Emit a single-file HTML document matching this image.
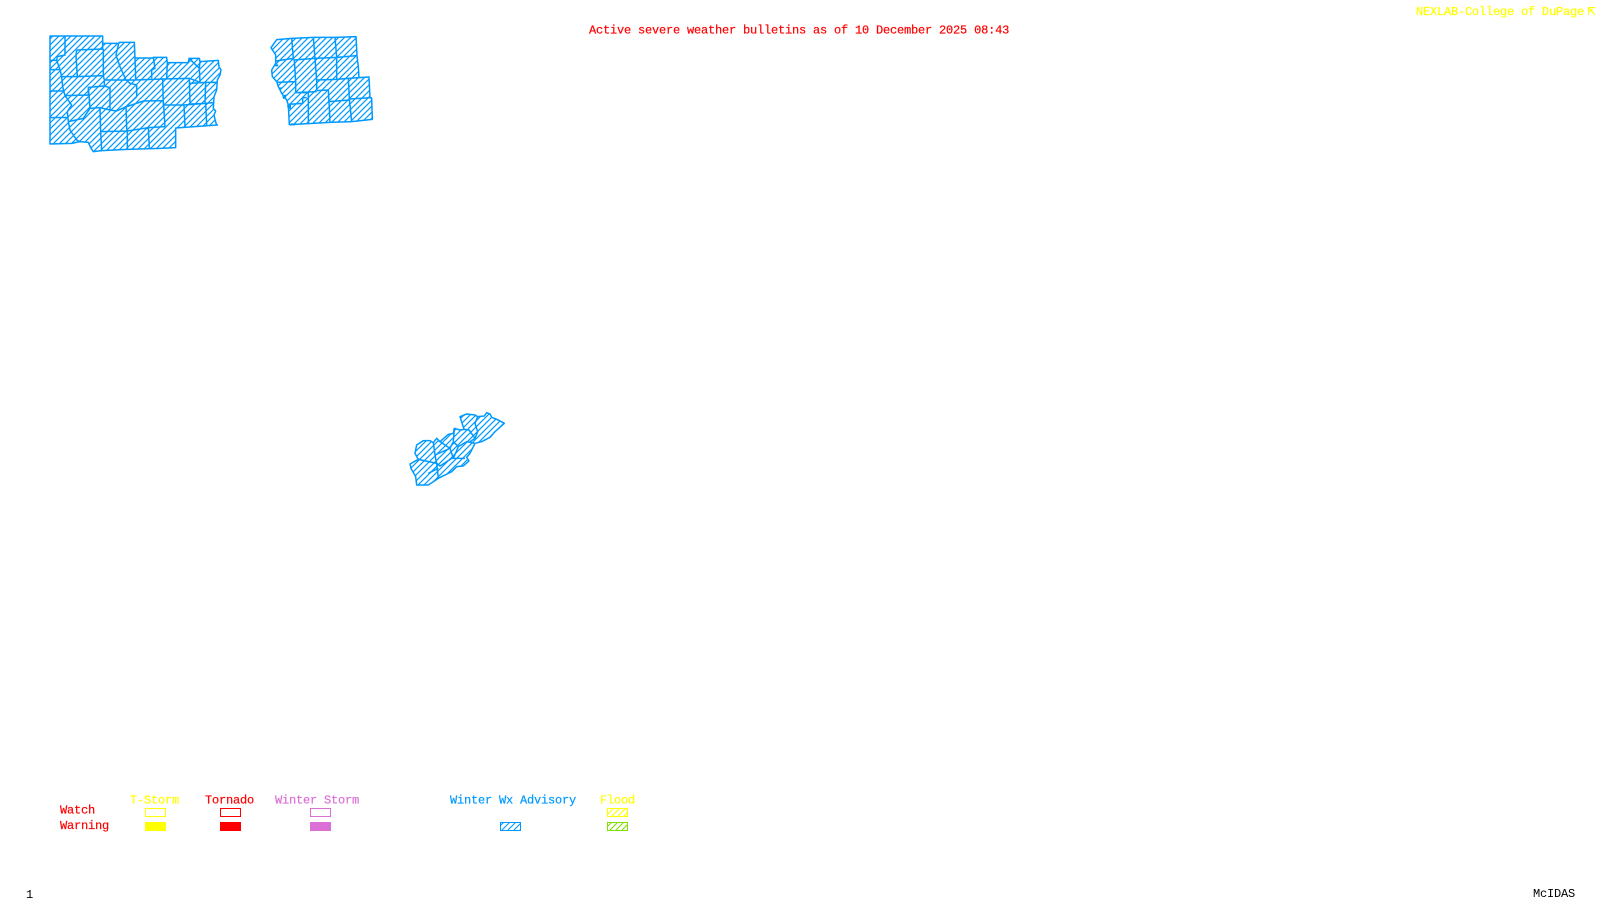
<!DOCTYPE html>
<html><head><meta charset="utf-8"><title>Active severe weather bulletins</title>
<style>
html,body{margin:0;padding:0;background:#fff;width:1600px;height:900px;overflow:hidden}
svg{display:block}
text{font-family:"Liberation Mono",monospace;font-size:12px;letter-spacing:-.2px;white-space:pre;stroke-width:.2px}
</style></head><body>
<svg width="1600" height="900" viewBox="0 0 1600 900" xmlns="http://www.w3.org/2000/svg">
<defs>
<pattern id="h" width="18" height="18" patternUnits="userSpaceOnUse"><path d="M-4.500 4.500L4.500-4.500M0 18L18 0M13.500 22.500L22.500 13.500" stroke="#0099ff" stroke-width="3.600" fill="none"/></pattern>
<pattern id="hb" width="6" height="6" patternUnits="userSpaceOnUse"><path d="M0 6L6 0M-1 1L1-1M5 7L7 5" stroke="#0099ff" stroke-width="1.100"/></pattern>
<pattern id="hy" width="6" height="6" patternUnits="userSpaceOnUse"><path d="M0 6L6 0M-1 1L1-1M5 7L7 5" stroke="#ffff00" stroke-width="1.100"/></pattern>
<pattern id="hg" width="6" height="6" patternUnits="userSpaceOnUse"><path d="M0 6L6 0M-1 1L1-1M5 7L7 5" stroke="#80e000" stroke-width="1.100"/></pattern>
</defs>
<rect width="1600" height="900" fill="#fff"/>

<g transform="translate(40,25) scale(.33333)" stroke="#0099ff" stroke-width="4.500" fill="none" stroke-linejoin="round">
<path fill="url(#h)" d="M30 33L188 33L188 55L236 55L238 52L283 52L285 99L338 99L340 97L380 97L382 113L445 113L447 100L478 100L480 110L535 106L537 125L543 135L540 150L532 165L530 195L522 215L520 250L527 258L522 270L528 295L532 300L407 309L407 368L360 370L262 373L185 377L160 380L152 368L145 352L120 350L95 355L30 357Z"/>
<path d="M75 33L75 90L52 95L50 106L30 106M30 134L60 134L65 155L112 155M50 106L60 134M110 75L188 72L188 55M110 75L108 92L112 155L190 152L190 72M236 55L228 90L240 125L258 165L285 165L368 162L448 160L480 172L478 130L480 110M285 99L287 162M340 97L345 130L335 135L335 160M382 113L380 160M447 100L478 130M190 152L193 165L258 165M65 155L68 185L75 212L145 210L145 187L193 183L193 165M145 187L150 250L180 248L210 255L210 188L193 183M210 255L230 258L258 245L290 215L290 180L270 175L258 165M75 212L95 240L82 260L85 290L130 280L150 250M30 198L70 198M30 278L82 277M85 290L90 315L110 345L120 350M180 248L182 320L185 377M182 320L262 318L262 373M258 245L260 310L262 318L325 308L328 370M325 308L375 305M260 245L310 228L370 227L375 305M370 240L432 240L435 305M368 162L370 240M448 160L450 237L497 235L500 300M432 240L497 235M450 175L497 172L530 172M497 172L495 235L520 233"/>
</g>

<g transform="translate(255,25) scale(.33333)" stroke="#0099ff" stroke-width="4.500" fill="none" stroke-linejoin="round">
<path fill="url(#h)" d="M65 44L110 40L175 37L240 37L303 35L306 92L310 125L312 158L342 156L345 218L350 220L352 283L290 290L225 292L160 296L103 299L100 240L95 225L80 205L70 185L65 170L52 155L50 135L62 115L62 90L48 68Z"/>
<path d="M110 40L115 100L62 108M175 37L180 100L115 105M240 37L245 97L180 100M245 97L306 92M118 105L122 170L65 172M122 170L122 203L185 200M180 100L185 165L185 195M185 165L245 163L245 97M245 163L280 160L312 158M280 160L283 222L350 218M220 195L222 230L283 225M283 222L290 290M222 230L225 292M185 197L220 195M160 203L160 296M155 218L143 218L143 235L100 238M122 203L160 203"/>
<path fill="#0099ff" stroke="none" d="M60 118L70 118L70 124L60 124ZM72 187L80 187L80 193L72 193ZM82 212L95 208L92 220L84 222ZM96 240L108 240L108 252L98 250ZM106 295L120 295L120 301L106 301Z"/>
</g>

<g transform="translate(395,400) scale(.33333)" stroke="#0099ff" stroke-width="4.500" fill="none" stroke-linejoin="round">
<path fill="url(#h)" d="M195 50L215 42L240 45L248 50L268 48L275 38L285 42L290 52L310 60L328 70L300 95L285 112L260 125L240 130L225 160L215 172L222 183L205 198L185 200L170 215L130 235L100 255L65 255L62 230L48 205L45 192L70 178L60 160L65 135L85 122L105 122L115 128L125 115L135 125L160 103L175 100L178 85L195 90L207 88Z"/>
<path d="M207 88L222 90L240 115M178 85L175 125L190 140L215 125L240 130M248 50L240 70L248 95L240 115L225 125M135 125L165 145L175 125M115 128L120 165L125 190L130 235M165 145L120 165M165 145L175 175L190 140M175 175L210 175M70 178L125 190M125 190L135 198L170 175L175 175M100 220L130 205"/>
</g>

<text x="589" y="33.500" fill="#ff0000" stroke="#ff0000">Active severe weather bulletins as of 10 December 2025 08:43</text>
<text x="1416" y="15" fill="#ffff00" stroke="#ffff00">NEXLAB-College of DuPage</text>
<path d="M1588.500 15V7.500H1595M1588.500 7.500L1595 15M1592 7.500V11H1588.500" fill="none" stroke="#ffff00" stroke-width="1"/>

<text x="130" y="803.500" fill="#ffff00" stroke="#ffff00">T-Storm</text>
<text x="205" y="803.500" fill="#ff0000" stroke="#ff0000">Tornado</text>
<text x="275" y="803.500" fill="#da70d6" stroke="#da70d6">Winter Storm</text>
<text x="450" y="803.500" fill="#0099ff" stroke="#0099ff">Winter Wx Advisory</text>
<text x="600" y="803.500" fill="#ffff00" stroke="#ffff00">Flood</text>
<text x="60" y="813.500" fill="#ff0000" stroke="#ff0000">Watch</text>
<text x="60" y="829" fill="#ff0000" stroke="#ff0000">Warning</text>

<rect x="145.500" y="808.500" width="20" height="8" fill="#fff" stroke="#ffff00"/>
<rect x="145" y="822" width="21" height="9" fill="#ffff00"/>
<rect x="220.500" y="808.500" width="20" height="8" fill="#fff" stroke="#ff0000"/>
<rect x="220" y="822" width="21" height="9" fill="#ff0000"/>
<rect x="310.500" y="808.500" width="20" height="8" fill="#fff" stroke="#da70d6"/>
<rect x="310" y="822" width="21" height="9" fill="#da70d6"/>
<rect x="500.500" y="822.500" width="20" height="8" fill="url(#hb)" stroke="#0099ff"/>
<rect x="607.500" y="808.500" width="20" height="8" fill="url(#hy)" stroke="#ffff00"/>
<rect x="607.500" y="822.500" width="20" height="8" fill="url(#hg)" stroke="#80e000"/>

<text x="26" y="898" fill="#000">1</text>
<text x="1533" y="897" fill="#000">McIDAS</text>
</svg>
</body></html>
